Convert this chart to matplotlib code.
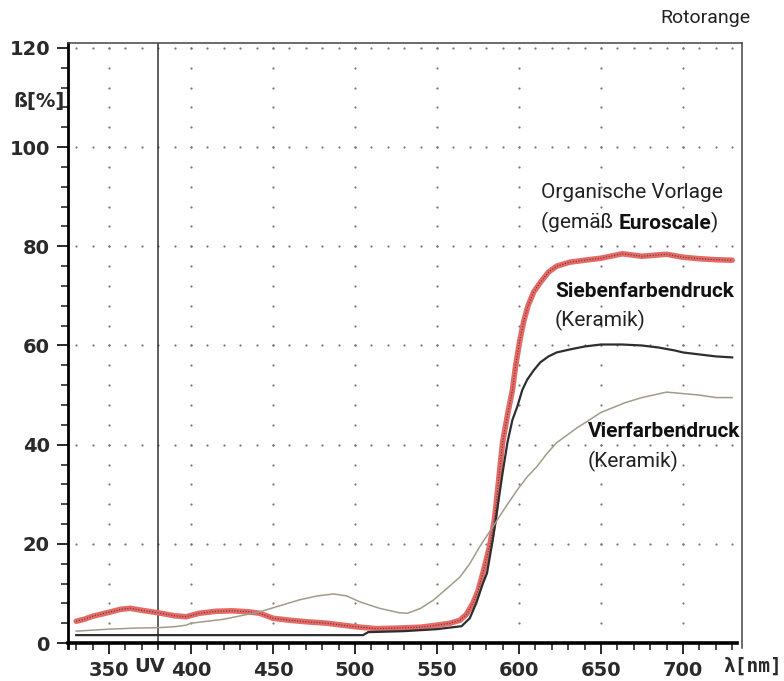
import numpy as np
import matplotlib
matplotlib.use("Agg")
import matplotlib.pyplot as plt

# Wellenlaenge (nm) / Remission (%)
org_nm = [330, 335, 340, 350, 357, 363, 370, 380, 390, 397, 405, 415, 425, 435, 442,
          450, 460, 470, 483, 490, 500, 513, 525, 540, 550, 558, 564, 568, 572, 575,
          578, 582, 585, 587, 590, 593, 596, 598, 600.5, 603, 605.5, 609, 613, 618,
          623, 631, 640, 650, 663, 675, 690, 700, 710, 720, 730]
org_val = [4.4, 4.8, 5.4, 6.2, 6.8, 7.0, 6.6, 6.1, 5.5, 5.3, 6.0, 6.4, 6.5, 6.3, 6.0,
           5.0, 4.6, 4.3, 4.0, 3.7, 3.3, 2.9, 3.0, 3.2, 3.6, 4.0, 4.6, 5.8, 8.1, 10.5,
           14.1, 19.4, 24.8, 30.9, 40.4, 46.0, 51.0, 56.0, 61.0, 65.0, 68.0, 70.8, 72.7, 74.8,
           76.0, 76.8, 77.2, 77.6, 78.5, 78.0, 78.4, 77.8, 77.5, 77.3, 77.2]

sieben_nm = [330, 360, 400, 450, 505, 508, 530, 550, 560, 565, 570, 574, 578, 580.5,
             584, 587, 590, 593, 596, 599, 602, 605, 609, 613, 618, 623, 631, 640,
             650, 663, 675, 685, 695, 700, 710, 720, 730]
sieben_val = [1.6, 1.6, 1.6, 1.6, 1.6, 2.2, 2.4, 2.8, 3.2, 3.4, 5.0, 8.1, 12.0, 14.1,
              20.8, 27.5, 34.3, 40.5, 45.0, 47.7, 51.0, 53.1, 55.0, 56.6, 57.8, 58.6, 59.2, 59.8,
              60.2, 60.2, 60.0, 59.6, 59.0, 58.6, 58.2, 57.8, 57.6]

vier_nm = [330, 340, 350, 365, 380, 390, 397, 400, 420, 442, 455, 466, 477, 487, 495,
           503, 515, 527, 532, 540, 548, 556, 564, 570, 576, 584, 591, 599, 605, 611,
           617, 623, 635, 650, 665, 675, 690, 700, 710, 720, 730]
vier_val = [2.4, 2.6, 2.8, 3.0, 3.1, 3.3, 3.6, 4.0, 4.8, 6.3, 7.6, 8.7, 9.5, 9.9, 9.5,
            8.3, 7.0, 6.1, 6.0, 7.0, 8.7, 11.0, 13.3, 16.0, 19.4, 23.4, 27.0, 30.9, 33.5, 35.6,
            38.2, 40.4, 43.3, 46.5, 48.5, 49.5, 50.6, 50.3, 50.0, 49.5, 49.5]

x_ticks = [350, 400, 450, 500, 550, 600, 650, 700]
y_ticks = [0, 20, 40, 60, 80, 100, 120]

W, H = 784, 681
fig = plt.figure(figsize=(W / 100, H / 100), dpi=100)
ax = fig.add_axes([68 / W, 1 - 648 / H, (742 - 68) / W, (648 - 43) / H])
ax.set_xlim(325, 736)
ax.set_ylim(-1, 121)

lab = {'family': 'DejaVu Sans', 'weight': 'bold', 'size': 14, 'color': '#2a2a2a'}
mono = {'family': 'DejaVu Sans Mono', 'weight': 'bold', 'size': 14, 'color': '#2a2a2a'}
narrow = ['Liberation Sans Narrow', 'Roboto', 'DejaVu Sans']

# punktiertes Raster
gx, gy = [], []
for xv in x_ticks:
    for yv in np.arange(4, 121, 4):
        gx.append(xv); gy.append(yv)
for yv in y_ticks[1:]:
    for xv in np.arange(330, 731, 10):
        gx.append(xv); gy.append(yv)
ax.plot(gx, gy, ls='none', marker='o', ms=1.6, mec='none', mfc='#777777', zorder=1)

# UV-Grenze
ax.axvline(380, color='#333333', lw=1.1, zorder=2)

ax.plot(org_nm, org_val, color='#e36a66', lw=4, solid_capstyle='round', zorder=3)
ax.plot(org_nm, org_val, color='#6a3535', lw=0.8, ls=(0, (1, 1.5)), zorder=4)
ax.plot(sieben_nm, sieben_val, color='#2e2e2e', lw=1.6, zorder=5)
ax.plot(vier_nm, vier_val, color='#a39b88', lw=1.1, zorder=6)

# Achsen
ax.spines['bottom'].set_position(('data', 0))
ax.spines['bottom'].set_bounds(325, 733)
ax.spines['bottom'].set_linewidth(2.6)
ax.spines['left'].set_linewidth(2.0)
ax.spines['left'].set_bounds(-1, 121)
for s in ('top', 'right'):
    ax.spines[s].set_linewidth(1.1)
    ax.spines[s].set_color('#444444')

ax.set_xticks(x_ticks)
ax.set_xticks(np.arange(330, 731, 10), minor=True)
ax.set_yticks(y_ticks)
ax.set_yticks(np.arange(0, 121, 4), minor=True)
ax.tick_params(which='major', direction='out', length=8, width=1.4, pad=5, color='#2a2a2a')
ax.tick_params(which='minor', direction='out', length=5, width=1.2, color='#2a2a2a')
ax.set_xticklabels([str(v) for v in x_ticks], fontdict=lab)
ax.set_yticklabels([str(v) for v in y_ticks], fontdict=lab)

tr = ax.get_xaxis_transform()
ax.text(375, -0.031, 'UV', transform=tr, ha='center', va='center', clip_on=False, **lab)
fig.text(782 / W, 1 - 666 / H, 'λ[nm]', ha='right', va='center', **mono)
fig.text(65 / W, 1 - 102 / H, 'ß[%]', ha='right', va='center', **lab)

fig.text(750 / W, 1 - 18 / H, 'Rotorange', ha='right', va='center',
         family=narrow, fontsize=14, color='#222222')

# Beschriftungen
ax.text(613.5, 90.8, 'Organische Vorlage', family=narrow, fontsize=15,
        color='#222222', va='center', ha='left')
t1 = ax.text(613.5, 84.9, '(gemäß ', family=narrow, fontsize=15,
             color='#222222', va='center', ha='left')
t2 = ax.annotate('Euroscale', xy=(1, 0), xycoords=t1, va='bottom', ha='left',
                 family=narrow, fontsize=15, weight='bold', color='#111111')
ax.annotate(')', xy=(1, 0), xycoords=t2, va='bottom', ha='left',
            family=narrow, fontsize=15, color='#222222')
ax.text(622, 70.8, 'Siebenfarbendruck', family=narrow, fontsize=15, weight='bold',
        color='#111111', va='center', ha='left')
ax.text(622, 65.1, '(Keramik)', family=narrow, fontsize=15,
        color='#222222', va='center', ha='left')
ax.text(642, 42.6, 'Vierfarbendruck', family=narrow, fontsize=15, weight='bold',
        color='#111111', va='center', ha='left')
ax.text(642, 36.7, '(Keramik)', family=narrow, fontsize=15,
        color='#222222', va='center', ha='left')

fig.savefig('out.png', dpi=100)
